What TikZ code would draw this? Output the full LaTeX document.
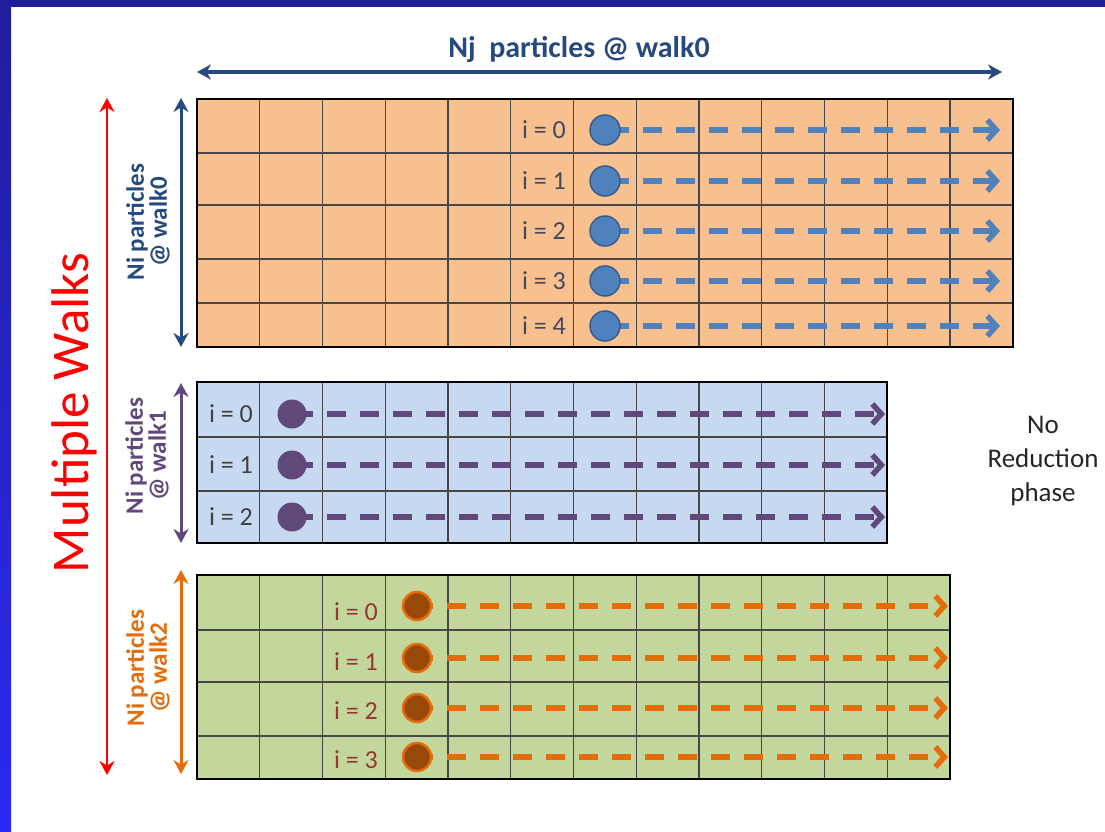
\documentclass[tikz,border=0pt]{standalone}
\usepackage{fontspec}
\setmainfont{Carlito}
\usetikzlibrary{arrows.meta}

\definecolor{slidetop}{RGB}{32,30,154}
\definecolor{slidebot}{RGB}{44,41,245}
\definecolor{navy}{RGB}{38,74,125}
\definecolor{grape}{RGB}{96,73,122}
\definecolor{tangerine}{RGB}{228,108,10}
\definecolor{peach}{RGB}{249,192,143}
\definecolor{sky}{RGB}{198,217,241}
\definecolor{sage}{RGB}{195,214,155}
\definecolor{steel}{RGB}{79,129,189}
\definecolor{steeledge}{RGB}{56,93,140}
\definecolor{rust}{RGB}{152,72,7}
\definecolor{brick}{RGB}{149,55,53}
\definecolor{slate}{RGB}{66,72,96}
\definecolor{ink}{RGB}{64,64,64}

% one walk: a filled block of cells, 62.75 units per column
% #1 name, #2 columns, #3 top, #4 bottom, #5 inner row lines, #6 fill
\newcommand\walkgrid[6]{%
  \node[cellfill=#6, anchor=north west, minimum width=#2*62.75pt,
        minimum height=#4pt-#3pt] (#1) at (197,#3) {};
  \pgfmathtruncatemacro\lastcol{#2-1}
  \foreach \k in {1,...,\lastcol}
    \draw[gridline] ({197+62.75*\k},#3) -- ({197+62.75*\k},#4);
  \foreach \r in {#5}
    \draw[gridline] (197,\r) -- ({197+62.75*#2},\r);
  \draw[gridframe] (#1.north west) rectangle (#1.south east);
}

\begin{document}
\begin{tikzpicture}[x=1pt, y=-1pt,
  gridline/.style={draw=black!72, line width=1.3pt},
  gridframe/.style={draw=black, line width=2.2pt},
  cellfill/.style={fill=#1, draw=none, inner sep=0pt, outer sep=0pt},
  idx/.style={font=\fontsize{26}{26}\selectfont, inner sep=0pt},
  walkline/.style={line width=5.5pt, dash pattern=on 19pt off 14pt,
                   -{Straight Barb[length=9pt, width=20pt]}},
  walkdot/.style={circle, minimum size=#1, inner sep=0pt},
  spanarrow/.style={line width=3pt,
                    {Stealth[length=14pt, width=15pt]}-{Stealth[length=14pt, width=15pt]}},
  sidelabel/.style={rotate=90, align=center, inner sep=0pt,
                    font=\bfseries\fontsize{25}{23}\selectfont},
]
\useasboundingbox (0,0) rectangle (1105,832);

% slide background and its border
\fill[white] (0,0) rectangle (1105,832);
\shade[top color=slidetop, bottom color=slidebot] (0,0) rectangle (11,832);
\fill[slidetop] (0,0) rectangle (1105,7);

% ---- walk 0 ----
\walkgrid{walkA}{13}{99}{347}{153,205,259,303}{peach}
\foreach \i/\y in {0/130,1/181,2/231,3/281,4/326} {
  \node[idx, text=slate] (la\i) at (544,\y) {i = \i};
  \coordinate (sa\i) at (605,\y);
  \coordinate (ea\i) at (1000,\y);
  \draw[walkline, steel, dash phase=28pt] (sa\i) -- (ea\i);
  \node[walkdot=30pt, fill=steel, draw=steeledge, line width=1.5pt] (da\i) at (sa\i) {};
}

% ---- walk 1 ----
\walkgrid{walkB}{11}{382}{543}{437,491}{sky}
\foreach \i/\y in {0/414,1/465,2/517} {
  \node[idx, text=ink] (lb\i) at (231,\y) {i = \i};
  \coordinate (sb\i) at (292,\y);
  \coordinate (eb\i) at (885,\y);
  \draw[walkline, grape, dash phase=31pt] (sb\i) -- (eb\i);
  \node[walkdot=29pt, fill=grape] (db\i) at (sb\i) {};
}

% ---- walk 2 ----
\walkgrid{walkC}{12}{575}{779}{630,682,736}{sage}
\foreach \i/\y/\ly in {0/606/612,1/658/662,2/708/711,3/757/760} {
  \node[idx, text=brick] (lc\i) at (356,\ly) {i = \i};
  \coordinate (sc\i) at (417,\y);
  \coordinate (ec\i) at (948,\y);
  \draw[walkline, tangerine, dash phase=3pt] (sc\i) -- (ec\i);
  \node[walkdot=28pt, fill=rust, draw=tangerine, line width=2.5pt] (dc\i) at (sc\i) {};
}

% ---- extent arrows ----
\node[text=navy, font=\bfseries\fontsize{30}{30}\selectfont, inner sep=0pt]
  (title) at (579,49) {Nj\ \ particles @ walk0};
\coordinate (tl) at (197,72);
\coordinate (tr) at (1002,72);
\draw[spanarrow, navy, line width=3.5pt] (tl) -- (tr);

\coordinate (at) at (181,98);
\coordinate (ab) at (181,347);
\draw[spanarrow, navy] (at) -- (ab);
\node[sidelabel, text=navy] (na) at (148,222) {Ni particles\\@ walk0};

\coordinate (bt) at (181,383);
\coordinate (bb) at (181,543);
\draw[spanarrow, grape] (bt) -- (bb);
\node[sidelabel, text=grape] (nb) at (147,456) {Ni particles\\@ walk1};

\coordinate (ct) at (181,570);
\coordinate (cb) at (181,774);
\draw[spanarrow, tangerine] (ct) -- (cb);
\node[sidelabel, text=tangerine] (nc) at (148,668) {Ni particles\\@ walk2};

\coordinate (rt) at (107,98);
\coordinate (rb) at (107,775);
\draw[spanarrow, red, line width=2.6pt] (rt) -- (rb);
\node[rotate=90, text=red, inner sep=0pt, font=\fontsize{53}{53}\selectfont]
  (mw) at (74,413) {Multiple Walks};

% ---- note ----
\node[align=center, text=black!85, inner sep=0pt, font=\fontsize{27}{34}\selectfont]
  (note) at (1043,461) {No\\Reduction\\phase};
\end{tikzpicture}
\end{document}
